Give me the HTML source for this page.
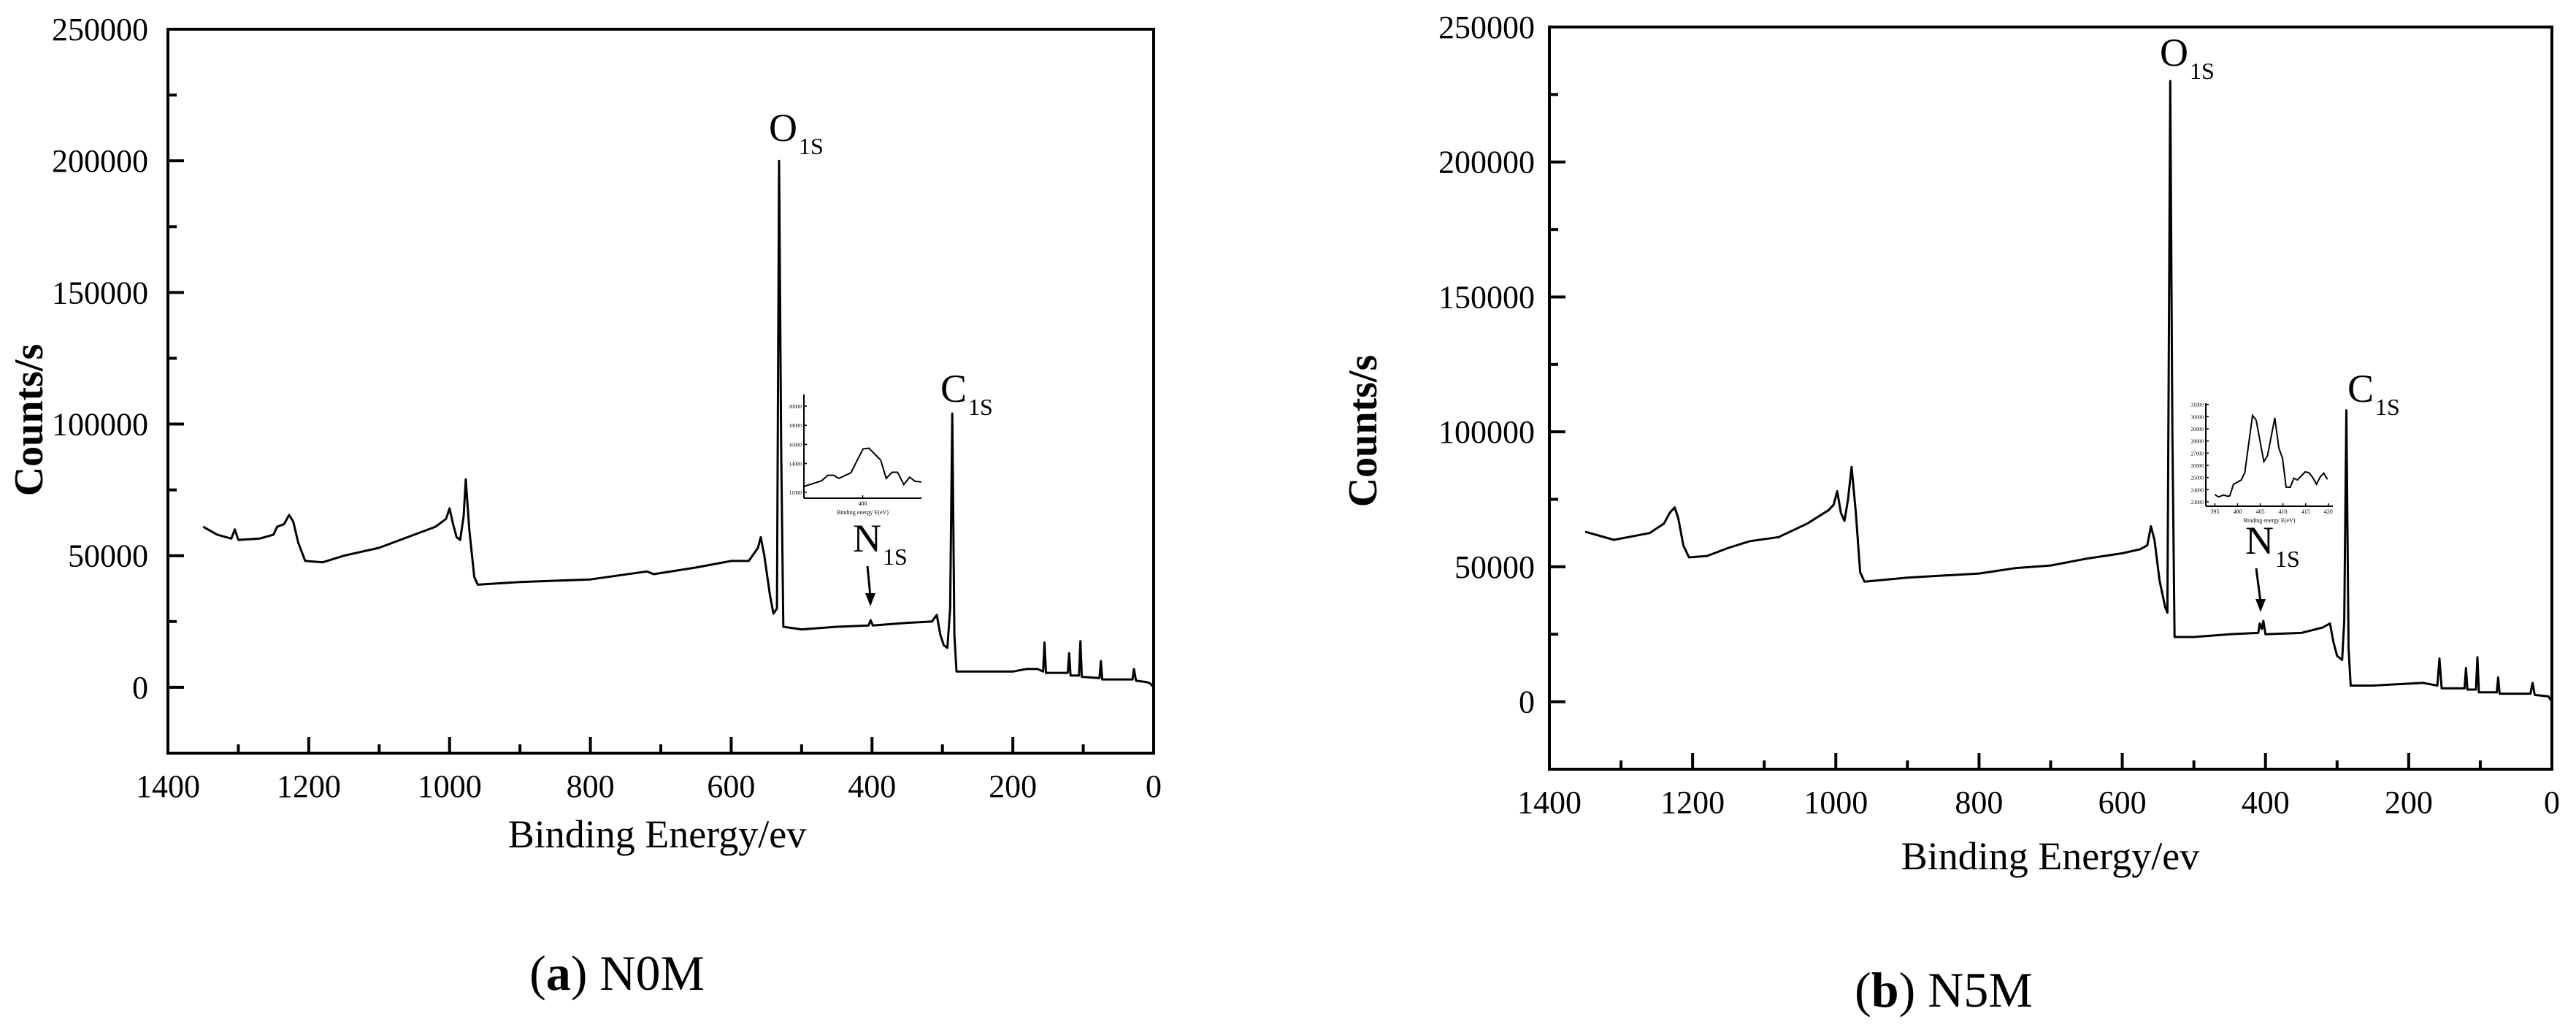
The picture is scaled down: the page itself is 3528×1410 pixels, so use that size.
<!DOCTYPE html>
<html><head><meta charset="utf-8">
<style>
html,body{margin:0;padding:0;background:#fff;}
svg{display:block;}
text{font-family:"Liberation Serif",serif;fill:#000;}
</style></head>
<body>
<svg id="root" width="3528" height="1410" viewBox="0 0 3528 1410" xmlns="http://www.w3.org/2000/svg"></svg>
<script>
// ---- Data: panel (a) N0M ----
const energyA = [1350,1330,1310,1305,1300,1270,1250,1245,1235,1228,1222,1215,1205,1180,1150,1100,1050,1020,1005,1000,995,990,985,980,977,972,965,960,900,800,720,710,650,600,575,562,558,553,545,540,535,532,529,526,500,450,405,402,399,350,315,308,303,298,293,289,286,283,280,200,180,165,157,155,153,122,120,118,106,104,102,77,75,73,30,28,25,10,5,0];
const countsA = [61000,58000,56500,60000,56000,56500,58000,61000,62000,65500,63000,55000,48000,47500,50000,53000,58000,61000,64000,68000,62000,57000,56000,65000,79000,60000,42000,39000,40000,41000,44000,43000,45500,48000,48000,53000,57000,50000,35000,28000,30000,200000,90000,23000,22000,23000,23500,25500,23500,24500,25000,27500,20000,16000,15000,30000,104000,20000,6000,6000,7000,7000,6000,17000,5500,5500,13000,4500,4500,17500,4000,3500,10000,3000,3000,7000,2500,2000,1500,0];
// ---- Data: panel (b) N5M ----
const energyB = [1350,1330,1310,1290,1260,1240,1232,1225,1220,1213,1205,1180,1150,1120,1080,1040,1010,1003,998,993,988,983,978,972,966,960,900,800,750,700,650,600,575,565,560,555,548,540,537,533,530,527,500,450,410,408,405,403,400,350,320,310,305,300,293,290,287,284,281,250,180,160,157,154,122,120,118,106,104,102,77,75,73,30,27,24,5,0];
const countsB = [63000,61500,60000,61000,62500,66000,70000,72000,68000,58000,53500,54000,57000,59500,61000,66000,71000,73000,78000,70000,67000,75000,87000,70000,48000,44500,46000,47500,49500,50500,53000,55000,56500,58000,65000,60000,45000,35000,33000,230000,100000,24000,24000,25000,25500,29000,27000,30000,25000,25500,27500,29000,22000,17000,15500,30000,108000,20000,6000,6000,7000,6000,16000,5000,5000,12500,4500,4500,16500,3500,3500,9000,3000,3000,7000,2500,2000,0];
// ---- Inset data ----
const insetEnergyA = [385,389.5,391.1,392.6,393.9,397,400.1,401.6,404.6,406,407.5,408.9,410.5,412,413.4,415];
const insetCountsA = [11610,12200,12780,12780,12450,13040,15530,15600,14360,12450,13090,13090,11810,12580,12140,12070];
const insetEnergyB = [395,395.8,396.9,397.8,398.3,399.1,399.7,400.8,401.6,403.3,404.1,405.8,406.6,408.2,409.1,409.9,410.7,411.6,412.4,413.2,414.9,415.7,416.5,417.4,418.2,419,419.8];
const insetCountsB = [23600,23400,23560,23460,23500,24440,24560,24800,25400,30100,29700,26300,26800,29900,27400,26600,24200,24200,24940,24800,25460,25400,25040,24440,25040,25360,24840];
const xTicks = [1400,1200,1000,800,600,400,200,0];
const yTicks = [0,50000,100000,150000,200000,250000];

const NS="http://www.w3.org/2000/svg";
const root=document.getElementById('root');
function el(tag,attrs,parent){const e=document.createElementNS(NS,tag);for(const k in attrs)e.setAttribute(k,attrs[k]);(parent||root).appendChild(e);return e;}

function panel(cfg){
  const g=el('g',{});
  
  
  const X=v=>cfg.L+(1400-v)/1400*(cfg.R-cfg.L);
  const Y=v=>cfg.T+(250000-v)/275000*(cfg.B-cfg.T);
  const fr=el('rect',{x:cfg.L,y:cfg.T,width:cfg.R-cfg.L,height:cfg.B-cfg.T,fill:'none',stroke:'#000','stroke-width':4},g);
  
  
  for(let v=1400;v>=0;v-=100){
    const major=v%200===0;
    const t=el('line',{x1:X(v),x2:X(v),y1:cfg.B,y2:cfg.B-(major?22:12),stroke:'#000','stroke-width':4},g);
    
    
  }
  xTicks.forEach(v=>{
    const t=el('text',{x:X(v),y:cfg.B+60,'font-size':44,'text-anchor':'middle'},g);
    t.textContent=v;
    
    
  });
  for(let v=-25000;v<=250000;v+=25000){
    const major=v%50000===0;
    const t=el('line',{x1:cfg.L,x2:cfg.L+(major?22:12),y1:Y(v),y2:Y(v),stroke:'#000','stroke-width':4},g);
    
    
  }
  yTicks.forEach(v=>{
    const t=el('text',{x:cfg.L-cfg.ygap,y:Y(v)+15,'font-size':44,'text-anchor':'end'},g);
    t.textContent=v;
    
    
  });
  const xt=el('text',{x:cfg.xtX,y:cfg.xtY,'font-size':54,'text-anchor':'middle'},g);
  xt.textContent='Binding Energy/ev';
  
  
  const yt=el('text',{x:0,y:0,'font-size':56,'font-weight':'bold','text-anchor':'middle',transform:`translate(${cfg.ytX},${cfg.ytY}) rotate(-90)`},g);
  yt.textContent='Counts/s';
  
  
  const d=cfg.e.map((e,i)=>(i?'L':'M')+X(e).toFixed(1)+','+Y(cfg.c[i]).toFixed(1)).join(' ');
  const p=el('path',{d:d,fill:'none',stroke:'#000','stroke-width':3,'stroke-linejoin':'round'},g);
  
  
  function peak(name,letter,x,y){
    const t=el('text',{x:x,y:y,'font-size':54},g);
    
    
    t.appendChild(document.createTextNode(letter));
    const s=document.createElementNS(NS,'tspan');
    s.setAttribute('font-size','32');s.setAttribute('dy','18');s.setAttribute('dx','2');
    s.textContent='1S';t.appendChild(s);
  }
  peak('o1s-label','O',cfg.oX,cfg.oY);
  peak('c1s-label','C',cfg.cX,cfg.cY);
  peak('n1s-label','N',cfg.nX,cfg.nY);
  const ar=el('g',{},g);
  
  
  el('line',{x1:cfg.aX1,y1:cfg.aY1,x2:cfg.aX2,y2:cfg.aY2-14,stroke:'#000','stroke-width':3},ar);
  el('polygon',{points:`${cfg.aX2-7},${cfg.aY2-18} ${cfg.aX2+7},${cfg.aY2-18} ${cfg.aX2},${cfg.aY2}`,fill:'#000'},ar);
  const ig=el('g',{},g);
  
  
  const I=cfg.inset;
  const IX=v=>I.L+(v-I.x0)/(I.x1-I.x0)*(I.R-I.L);
  const IY=v=>I.B-(v-I.y0)/(I.y1-I.y0)*(I.B-I.T);
  el('line',{x1:I.L,y1:I.T,x2:I.L,y2:I.B,stroke:'#000','stroke-width':2},ig);
  el('line',{x1:I.L,y1:I.B,x2:I.R,y2:I.B,stroke:'#000','stroke-width':2},ig);
  I.xt.forEach(v=>{
    el('line',{x1:IX(v),x2:IX(v),y1:I.B,y2:I.B-4,stroke:'#000','stroke-width':1.5},ig);
    const t=el('text',{x:IX(v),y:I.B+10,'font-size':8,'text-anchor':'middle','font-family':'Liberation Sans'},ig);t.textContent=v;
  });
  I.yt.forEach(v=>{
    el('line',{x1:I.L,x2:I.L+4,y1:IY(v),y2:IY(v),stroke:'#000','stroke-width':1.5},ig);
    const t=el('text',{x:I.L-3,y:IY(v)+3,'font-size':7,'text-anchor':'end','font-family':'Liberation Sans'},ig);t.textContent=v;
  });
  const xl=el('text',{x:(I.L+I.R)/2,y:I.B+22,'font-size':8,'text-anchor':'middle','font-family':'Liberation Sans'},ig);
  xl.textContent='Binding energy E(eV)';
  const id=I.e.map((e,i)=>(i?'L':'M')+IX(e).toFixed(1)+','+IY(I.c[i]).toFixed(1)).join(' ');
  el('path',{d:id,fill:'none',stroke:'#000','stroke-width':2},ig);
  const cap=el('text',{x:cfg.capX,y:cfg.capY,'font-size':68,'text-anchor':'middle'},g);
  
  
  const b=document.createElementNS(NS,'tspan');b.setAttribute('font-weight','bold');
  cap.appendChild(document.createTextNode('('));b.textContent=cfg.letter;cap.appendChild(b);
  cap.appendChild(document.createTextNode(') '+cfg.sample));
}

panel({name:'panel-a-n0m',letter:'a',sample:'N0M',L:230,R:1580,T:40,B:1031,ygap:27,e:energyA,c:countsA,
  xtX:900,xtY:1160,ytX:58,ytY:575,oX:1053,oY:193,cX:1288,cY:550,nX:1168,nY:755,
  aX1:1188,aY1:775,aX2:1192,aY2:830,capX:845,capY:1355,
  inset:{L:1101,R:1262,T:540,B:682,x0:385,x1:415,y0:10380,y1:21220,xt:[400],yt:[11000,14000,16000,18000,20000],e:insetEnergyA,c:insetCountsA}});
panel({name:'panel-b-n5m',letter:'b',sample:'N5M',L:2122,R:3495,T:37,B:1053,ygap:20,e:energyB,c:countsB,
  xtX:2808,xtY:1190,ytX:1885,ytY:590,oX:2958,oY:90,cX:3215,cY:550,nX:3075,nY:758,
  aX1:3090,aY1:778,aX2:3096,aY2:838,capX:2662,capY:1378,
  inset:{L:3021,R:3195,T:552,B:693,x0:393,x1:421,y0:22640,y1:31100,xt:[395,400,405,410,415,420],yt:[23000,24000,25000,26000,27000,28000,29000,30000,31000],e:insetEnergyB,c:insetCountsB}});
</script>
</body></html>
